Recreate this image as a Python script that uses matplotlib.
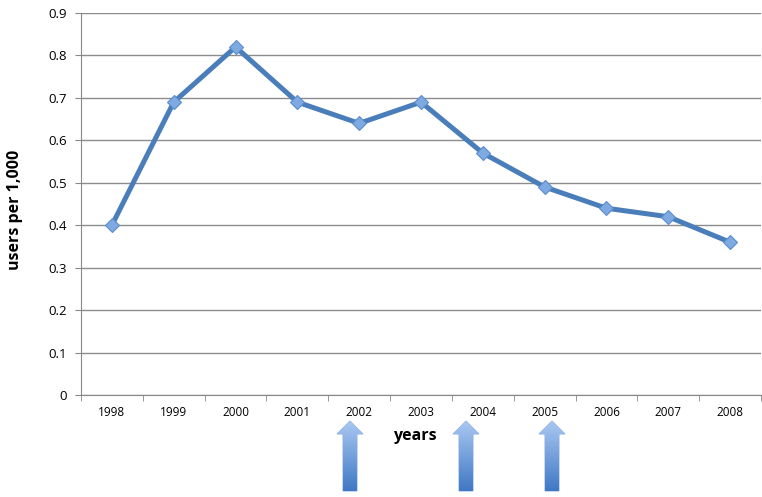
import matplotlib
matplotlib.use("Agg")
import matplotlib.pyplot as plt
import numpy as np
from matplotlib.patches import Polygon

years = ["1998", "1999", "2000", "2001", "2002", "2003", "2004", "2005", "2006", "2007", "2008"]
users = [0.40, 0.69, 0.82, 0.69, 0.64, 0.69, 0.57, 0.49, 0.44, 0.42, 0.36]
y_ticks = [0.0, 0.1, 0.2, 0.3, 0.4, 0.5, 0.6, 0.7, 0.8, 0.9]
y_tick_labels = ["0", "0.1", "0.2", "0.3", "0.4", "0.5", "0.6", "0.7", "0.8", "0.9"]

plt.rcParams["font.family"] = ["Open Sans", "DejaVu Sans"]

fig = plt.figure(figsize=(7.62, 4.97), dpi=100)
ax = fig.add_axes([81 / 762, 1 - 395 / 497, 680 / 762, (395 - 13) / 497])

x = np.arange(len(years))
ax.plot(x, users, color="#4a7ebb", lw=3.6, marker="D", markersize=7,
        markerfacecolor="#7ea9e1", markeredgecolor="#5b8ccc", markeredgewidth=0.8,
        zorder=3)

ax.set_xlim(-0.5, len(years) - 0.5)
ax.set_ylim(0, 0.9)
ax.set_yticks(y_ticks)
ax.set_yticklabels(y_tick_labels)
ax.set_xticks(x)
ax.set_xticklabels(years)
ax.set_xticks(np.arange(len(years) + 1) - 0.5, minor=True)
ax.tick_params(axis="x", which="major", length=0, labelsize=8.5, pad=8)
ax.tick_params(axis="x", which="minor", length=4, color="#888888", direction="out")
ax.tick_params(axis="y", length=4, color="#888888", labelsize=9.5, pad=6)

ax.grid(axis="y", color="#8c8c8c", lw=1)
ax.set_axisbelow(True)
for s in ["top", "right"]:
    ax.spines[s].set_visible(False)
ax.spines["left"].set_color("#888888")
ax.spines["bottom"].set_color("#888888")

fig.text(15 / 762, 1 - 210 / 497, "users per 1,000", rotation=90, ha="center",
         va="center", fontsize=11.5, fontweight="bold")
fig.text(415 / 762, 1 - 436 / 497, "years", ha="center", va="center",
         fontsize=11.5, fontweight="bold")

# gradient arrows below the axis
over = fig.add_axes([0, 0, 1, 1], facecolor="none")
over.set_xlim(0, 762)
over.set_ylim(497, 0)
over.axis("off")
grad = np.linspace(0, 1, 256).reshape(-1, 1)
cmap = matplotlib.colors.LinearSegmentedColormap.from_list("arr", ["#a9c8f2", "#3f78c4"])
for cx in [350, 466, 552]:
    top, neck, bottom = 421, 434, 491
    hw, bw = 13, 7
    pts = [(cx, top), (cx + hw, neck), (cx + bw, neck), (cx + bw, bottom),
           (cx - bw, bottom), (cx - bw, neck), (cx - hw, neck)]
    poly = Polygon(pts, closed=True, facecolor="none", edgecolor="#7aa2d8", lw=0.6)
    over.add_patch(poly)
    im = over.imshow(grad, cmap=cmap, aspect="auto",
                     extent=(cx - hw, cx + hw, bottom, top), zorder=1)
    im.set_clip_path(poly)

fig.savefig("out.png", dpi=100)
